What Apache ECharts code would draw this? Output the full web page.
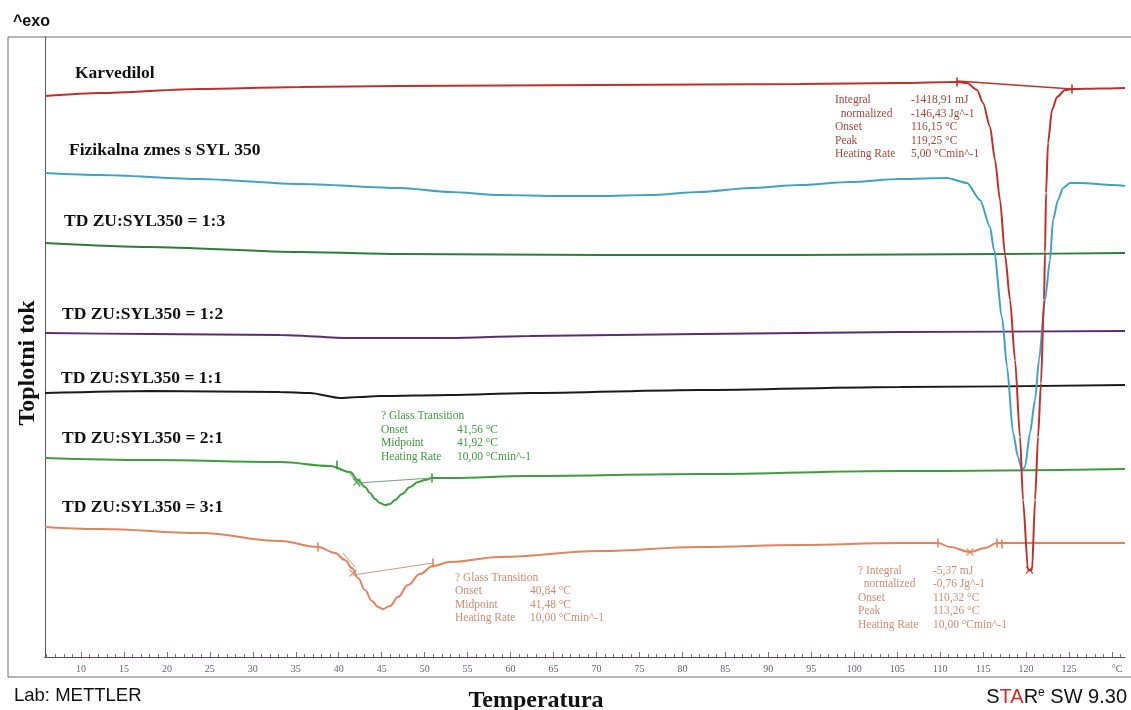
<!DOCTYPE html>
<html><head><meta charset="utf-8">
<script src="https://cdn.jsdelivr.net/npm/echarts@6/dist/echarts.min.js"></script>
<style>html,body{margin:0;padding:0;background:#fff}#c{width:1131px;height:710px}</style>
</head><body><div id="c"></div>
<script>
// ---- data: temperature (°C) vs heat flow (arbitrary units, offset per curve) ----
const karvedilol = [[5.81,561],[12.21,564],[23.85,568],[35.49,570],[47.13,571],[58.77,571.5],[70.41,572],[82.05,572.5],[93.69,573],[105.33,574],[111.97,575],[113.13,574],[114.30,567],[115.00,554],[115.81,530],[116.39,497],[116.97,457],[117.56,402],[118.14,357],[118.72,297],[119.30,220],[119.65,157],[120.23,87],[120.70,87],[121.05,157],[121.40,220],[121.74,274],[122.09,357],[122.21,405],[122.33,464],[122.56,514],[123.02,547],[123.61,560],[124.54,567],[125.47,568],[128.61,568.5],[131.52,569]];
const fizikalna = [[5.81,484],[12.21,482],[23.85,478],[35.49,473],[47.13,469],[52.95,465],[58.77,462],[65.76,461],[70.41,461],[76.23,462],[82.05,465],[87.87,469],[93.69,472],[99.51,475],[105.33,478],[110.80,479],[113.13,474],[114.65,457],[115.81,430],[116.27,407],[117.21,340],[117.79,290],[118.49,224],[119.07,200],[119.53,187],[119.88,190],[120.46,224],[121.05,257],[121.51,297],[122.21,357],[122.79,397],[123.14,437],[123.72,457],[124.31,469],[125.12,474],[126.28,474],[130.13,472],[131.52,471]];
const td13 = [[5.81,414],[18.03,410],[35.49,405],[47.13,403],[70.41,402],[93.69,402],[116.97,403],[131.52,404]];
const td12 = [[5.81,324],[18.03,323],[33.16,322],[41.31,319],[52.95,319],[62.26,321],[82.05,323],[105.33,325],[131.52,326]];
const td11 = [[5.81,264],[18.03,266],[33.16,265],[36.66,264],[40.15,259],[42.47,260],[44.80,261],[52.95,262],[62.26,264],[82.05,267],[105.33,270],[131.52,272]];
const td21 = [[5.81,199],[18.03,197],[33.16,195],[38.98,191],[41.31,185],[42.24,177],[43.06,170],[43.64,164],[44.22,158],[44.80,154],[45.39,152],[45.97,153],[46.55,157],[47.37,163],[48.30,170],[49.23,175],[50.04,177],[50.86,179],[52.95,179],[62.26,181],[82.05,183],[105.33,186],[131.52,188]];
const td31 = [[5.81,130],[12.21,128],[23.85,124],[33.16,116],[37.59,110],[39.57,104],[40.73,97],[41.54,89],[42.24,79],[43.06,67],[43.87,56],[44.57,50],[45.15,48],[45.97,51],[46.90,60],[48.06,72],[49.46,83],[50.97,91],[52.95,95],[58.77,100],[70.41,106],[82.05,110],[93.69,112],[105.33,114],[109.75,114],[111.15,110],[113.48,105],[115.23,109],[116.62,114],[131.52,114]];

// evaluation marks
const redBaseline = [[111.97,576],[125.35,568]];
const redBrackets = [[111.97,575],[125.35,568]];
const redPeak = [[120.40,87]];
const greenBaseline = [[42.12,174],[50.86,179]];
const greenTangent = [[41.08,186],[42.47,170]];
const greenTicks = [[39.80,192],[50.86,179]];
const greenX = [[42.12,175]];
const orangeBaseline = [[41.66,82],[50.97,94]];
const orangeTangent = [[40.5,104],[41.9,90]];
const orangeTicks = [[37.59,110],[50.97,94],[109.75,114],[116.62,114],[117.2,113]];
const orangeX = [[41.66,84],[113.48,105]];

const curveLabels = ['Karvedilol','Fizikalna zmes s SYL 350','TD ZU:SYL350 = 1:3','TD ZU:SYL350 = 1:2','TD ZU:SYL350 = 1:1','TD ZU:SYL350 = 2:1','TD ZU:SYL350 = 3:1'];
const majorTicks = [10,15,20,25,30,35,40,45,50,55,60,65,70,75,80,85,90,95,100,105,110,115,120,125,130];
const tickLabels = [10,15,20,25,30,35,40,45,50,55,60,65,70,75,80,85,90,95,100,105,110,115,120,125,130.6];
const minorTicks = [];
for (let t = 6; t <= 131; t++) minorTicks.push(t);

const annRed = [['Integral','-1418,91 mJ'],['  normalized','-146,43 Jg^-1'],['Onset','116,15 °C'],['Peak','119,25 °C'],['Heating Rate','5,00 °Cmin^-1']];
const annGreen = [['? Glass Transition',''],['Onset','41,56 °C'],['Midpoint','41,92 °C'],['Heating Rate','10,00 °Cmin^-1']];
const annOrange1 = [['? Glass Transition',''],['Onset','40,84 °C'],['Midpoint','41,48 °C'],['Heating Rate','10,00 °Cmin^-1']];
const annOrange2 = [['? Integral','-5,37 mJ'],['  normalized','-0,76 Jg^-1'],['Onset','110,32 °C'],['Peak','113,26 °C'],['Heating Rate','10,00 °Cmin^-1']];

// ---- chart ----
const C = {red:'#c0302c', blue:'#3ea3c6', dgreen:'#2f7d3a', purple:'#5b2e6e', black:'#1a1a1a', green:'#3c9e3c', orange:'#e5825f'};
const chart = echarts.init(document.getElementById('c'), null, {renderer:'canvas'});

function curve(data, color, w, s) {
  return {type:'line', data, showSymbol:false, smooth:s || 0.25, smoothMonotone:'x', silent:true,
    lineStyle:{color, width:w}, itemStyle:{color}, z:3};
}
function thin(data, color, w) {
  return {type:'line', data, showSymbol:false, silent:true, lineStyle:{color, width:w||1}, z:4};
}
function marks(data, color, kind) {
  const xPath = 'path://M0,0L10,10M10,0L0,10';
  return {type:'scatter', data, silent:true, z:5,
    symbol: kind === 'x' ? xPath : 'rect',
    symbolSize: kind === 'x' ? 7 : [2,9],
    itemStyle: kind === 'x' ? {color:'none', borderColor:color, borderWidth:1.5} : {color}};
}

const serif = '"Liberation Serif","Times New Roman",serif';
const sans = '"Liberation Sans",Arial,sans-serif';
const labelPos = [[75,73],[69,150],[64,221.5],[62,314.5],[61,378.5],[62,438],[62,507]];
const graphics = [
  {type:'rect', shape:{x:8, y:37, width:1140, height:640}, style:{fill:'none', stroke:'#6a6a6a', lineWidth:1}, silent:true},
  {type:'text', x:13, y:22, style:{text:'^exo', font:'bold 16px '+sans, fill:'#111', verticalAlign:'middle'}},
  {type:'text', x:14, y:696, style:{text:'Lab: METTLER', font:'18.5px '+sans, fill:'#111', verticalAlign:'middle'}},
  {type:'text', x:536, y:701, style:{text:'Temperatura', font:'bold 24px '+serif, fill:'#111', align:'center', verticalAlign:'middle'}},
  {type:'text', x:28, y:363, rotation:Math.PI/2, style:{text:'Toplotni tok', font:'bold 24px '+serif, fill:'#111', align:'center', verticalAlign:'middle'}},
  {type:'text', x:1127, y:697, style:{text:'{a|S}{r|TA}{a|R}{s|e}{a| SW 9.30}', align:'right', verticalAlign:'middle',
     rich:{a:{fontFamily:sans, fontSize:20, fill:'#111', color:'#111'}, r:{fontFamily:sans, fontSize:20, fill:'#d42a2a', color:'#d42a2a'}, s:{fontFamily:sans, fontSize:12, fill:'#111', color:'#111', verticalAlign:'top'}}}}
];
curveLabels.forEach((t,i)=>graphics.push({type:'text', x:labelPos[i][0], y:labelPos[i][1], style:{text:t, font:'bold 17.5px '+serif, fill:'#111', verticalAlign:'middle'}}));
function ann(rows, x1, x2, ys, color) {
  rows.forEach((r,i)=>{
    graphics.push({type:'text', x:x1, y:ys[i], style:{text:r[0], font:'11.5px '+serif, fill:color, verticalAlign:'middle'}});
    if (r[1]) graphics.push({type:'text', x:x2, y:ys[i], style:{text:r[1], font:'11.5px '+serif, fill:color, verticalAlign:'middle'}});
  });
}
ann(annRed, 835, 911, [100,113.5,127,140.5,154], '#a5453f');
ann(annGreen, 381, 457, [416,429.5,443,456.5], '#3f9a3f');
ann(annOrange1, 455, 530, [577.5,591,604.5,618], '#cf8c74');
ann(annOrange2, 858, 933, [570.5,584,597.5,611,624.5], '#cf8c74');

const xBase = {type:'value', min:5.81, max:131.52, gridIndex:0, position:'bottom', splitLine:{show:false}};
chart.setOption({
  animation:false,
  backgroundColor:'#fff',
  grid:{left:45, right:6, top:37, bottom:53},
  xAxis:[
    Object.assign({}, xBase, {
      axisLine:{show:true, lineStyle:{color:'#5c4a5c', width:1.2}},
      axisTick:{show:true, inside:true, length:3, customValues:minorTicks, lineStyle:{color:'#8a6a8a'}},
      axisLabel:{show:true, customValues:tickLabels, margin:7, color:'#6e5f78', fontFamily:serif, fontSize:10,
        formatter:v => v > 129 ? '°C' : String(v)}
    }),
    Object.assign({}, xBase, {
      axisLine:{show:false},
      axisTick:{show:true, inside:true, length:5, customValues:majorTicks, lineStyle:{color:'#8a6a8a'}},
      axisLabel:{show:false}
    })
  ],
  yAxis:{type:'value', min:0, max:620, axisLine:{show:true, lineStyle:{color:'#5a5a5a', width:1}}, axisTick:{show:false}, axisLabel:{show:false}, splitLine:{show:false}},
  graphic:graphics,
  series:[
    curve(td13, C.dgreen, 1.8),
    curve(td12, C.purple, 1.8),
    curve(td11, C.black, 1.8),
    curve(td21, C.green, 2, 0.4),
    curve(td31, C.orange, 2, 0.4),
    curve(fizikalna, C.blue, 2),
    curve(karvedilol, C.red, 2),
    thin(redBaseline, C.red, 1.5),
    marks(redBrackets, C.red, 'bar'),
    marks(redPeak, C.red, 'x'),
    thin(greenBaseline, '#7aa07a', 1),
    thin(greenTangent, '#7aa07a', 1),
    marks(greenTicks, C.green, 'bar'),
    marks(greenX, C.green, 'x'),
    thin(orangeBaseline, '#d09880', 1),
    thin(orangeTangent, '#d09880', 1),
    marks(orangeTicks, C.orange, 'bar'),
    marks(orangeX, C.orange, 'x')
  ]
});
</script></body></html>
